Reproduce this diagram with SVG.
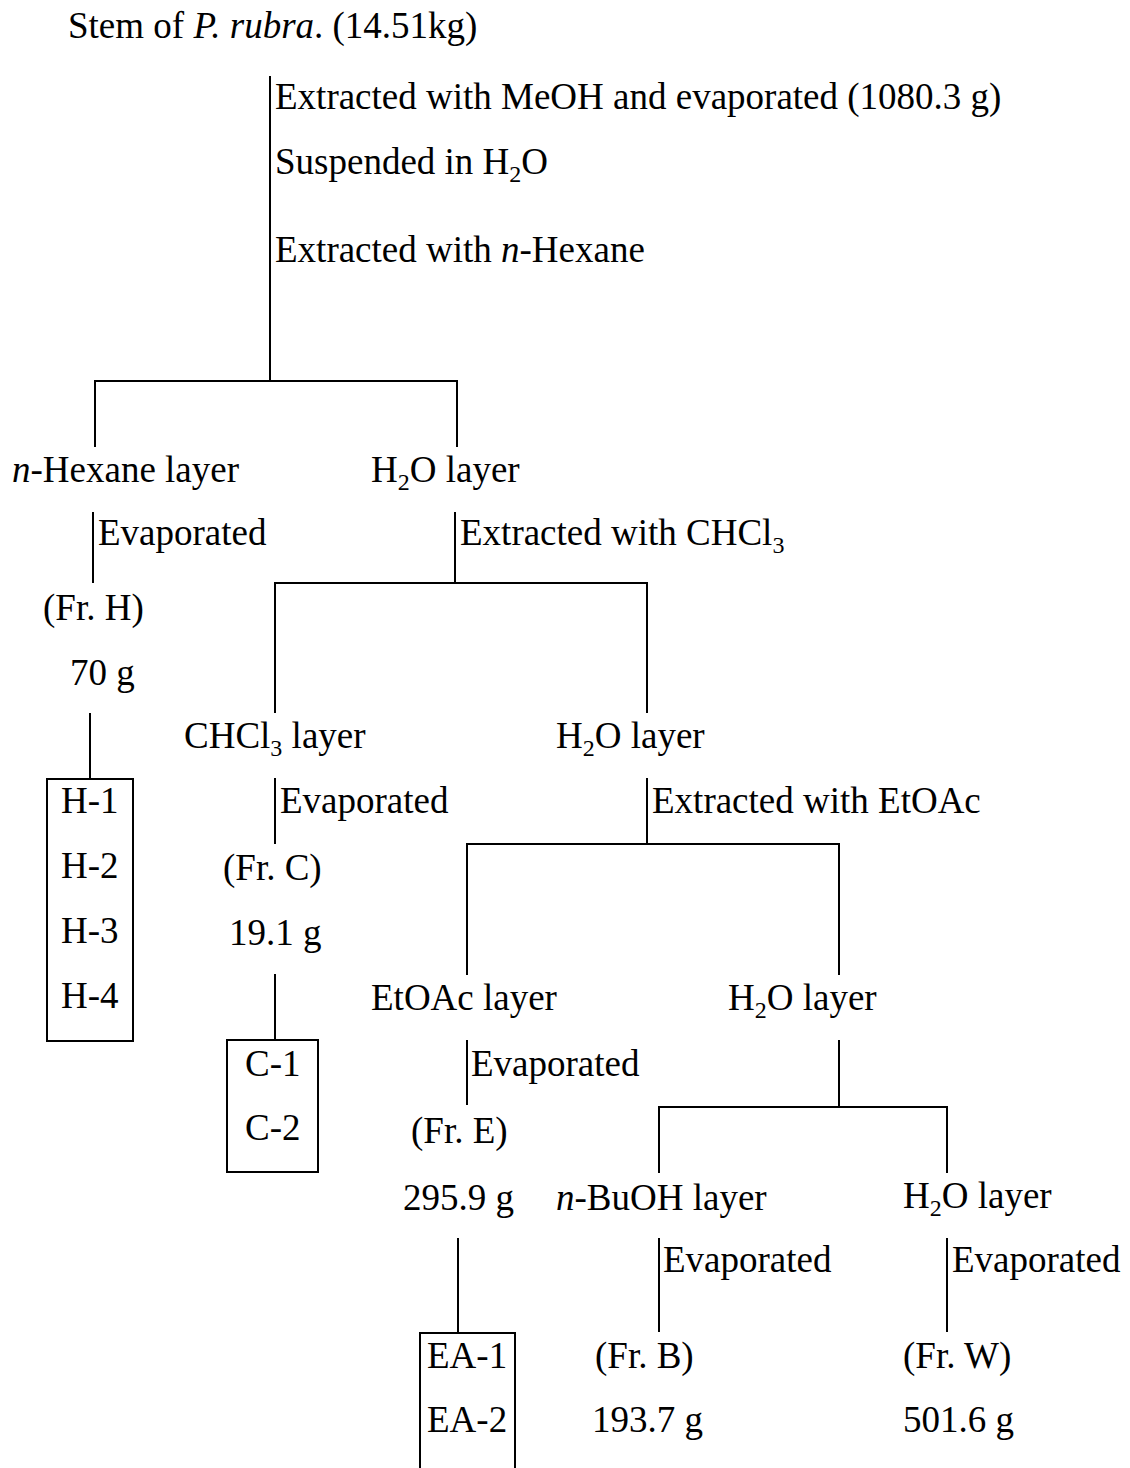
<svg xmlns="http://www.w3.org/2000/svg" width="1130" height="1468" viewBox="0 0 1130 1468">
<style>
text{font-family:"Liberation Serif","Times New Roman",serif;font-size:37px;fill:#000}
.sub{font-size:24px}
.i{font-style:italic}
line,polyline,.box{stroke:#000;stroke-width:2;fill:none}
</style>
<rect x="0" y="0" width="1130" height="1468" fill="#fff"/>
<g id="connectors">
<line x1="270" y1="76" x2="270" y2="381"/>
<polyline points="95,447 95,381 457,381 457,447"/>
<line x1="93" y1="512" x2="93" y2="583"/>
<line x1="455" y1="512" x2="455" y2="583"/>
<polyline points="275,713 275,583 647,583 647,713"/>
<line x1="90" y1="713" x2="90" y2="779"/>
<line x1="275" y1="778" x2="275" y2="844"/>
<line x1="647" y1="778" x2="647" y2="844"/>
<polyline points="467,975 467,844 839,844 839,975"/>
<line x1="275" y1="974" x2="275" y2="1040"/>
<line x1="467" y1="1040" x2="467" y2="1105"/>
<line x1="839" y1="1040" x2="839" y2="1107"/>
<polyline points="659,1173 659,1107 947,1107 947,1173"/>
<line x1="458" y1="1238" x2="458" y2="1333"/>
<line x1="659" y1="1238" x2="659" y2="1332"/>
<line x1="947" y1="1238" x2="947" y2="1332"/>
</g>
<g id="start"><text x="68" y="38">Stem of <tspan class="i">P.</tspan> <tspan class="i">rubra</tspan>. (14.51kg)</text></g>
<g id="step1">
<text x="275" y="109">Extracted with MeOH and evaporated (1080.3 g)</text>
<text x="275" y="174">Suspended in H<tspan class="sub" dy="8">2</tspan><tspan dy="-8">O</tspan></text>
<text x="275" y="262">Extracted with <tspan class="i">n</tspan>-Hexane</text>
</g>
<g id="hexane-layer"><text x="12" y="482"><tspan class="i">n</tspan>-Hexane layer</text></g>
<g id="h2o-layer-1"><text x="371" y="482">H<tspan class="sub" dy="8">2</tspan><tspan dy="-8">O layer</tspan></text></g>
<g id="evap-h"><text x="98" y="545">Evaporated</text></g>
<g id="ext-chcl3"><text x="460" y="545">Extracted with CHCl<tspan class="sub" dy="8">3</tspan></text></g>
<g id="fr-h"><text x="43" y="620">(Fr. H)</text><text x="70" y="685">70 g</text></g>
<g id="chcl3-layer"><text x="184" y="748">CHCl<tspan class="sub" dy="8">3</tspan><tspan dy="-8"> layer</tspan></text></g>
<g id="h2o-layer-2"><text x="556" y="748">H<tspan class="sub" dy="8">2</tspan><tspan dy="-8">O layer</tspan></text></g>
<g id="box-h">
<rect class="box" x="47" y="779" width="86" height="262"/>
<text x="61" y="813">H-1</text><text x="61" y="878">H-2</text><text x="61" y="943">H-3</text><text x="61" y="1008">H-4</text>
</g>
<g id="evap-c"><text x="280" y="813">Evaporated</text></g>
<g id="ext-etoac"><text x="652" y="813">Extracted with EtOAc</text></g>
<g id="fr-c"><text x="223" y="880">(Fr. C)</text><text x="229" y="945">19.1 g</text></g>
<g id="etoac-layer"><text x="371" y="1010">EtOAc layer</text></g>
<g id="h2o-layer-3"><text x="728" y="1010">H<tspan class="sub" dy="8">2</tspan><tspan dy="-8">O layer</tspan></text></g>
<g id="box-c">
<rect class="box" x="227" y="1040" width="91" height="132"/>
<text x="245" y="1076">C-1</text><text x="245" y="1140">C-2</text>
</g>
<g id="evap-e"><text x="471" y="1076">Evaporated</text></g>
<g id="fr-e"><text x="411" y="1143">(Fr. E)</text><text x="403" y="1210">295.9 g</text></g>
<g id="buoh-layer"><text x="556" y="1210"><tspan class="i">n</tspan>-BuOH layer</text></g>
<g id="h2o-layer-4"><text x="903" y="1208">H<tspan class="sub" dy="8">2</tspan><tspan dy="-8">O layer</tspan></text></g>
<g id="evap-b"><text x="663" y="1272">Evaporated</text></g>
<g id="evap-w"><text x="952" y="1272">Evaporated</text></g>
<g id="box-ea">
<rect class="box" x="420" y="1333" width="95" height="140"/>
<text x="427" y="1368">EA-1</text><text x="427" y="1432">EA-2</text>
</g>
<g id="fr-b"><text x="595" y="1368">(Fr. B)</text><text x="592" y="1432">193.7 g</text></g>
<g id="fr-w"><text x="903" y="1368">(Fr. W)</text><text x="903" y="1432">501.6 g</text></g>
</svg>
